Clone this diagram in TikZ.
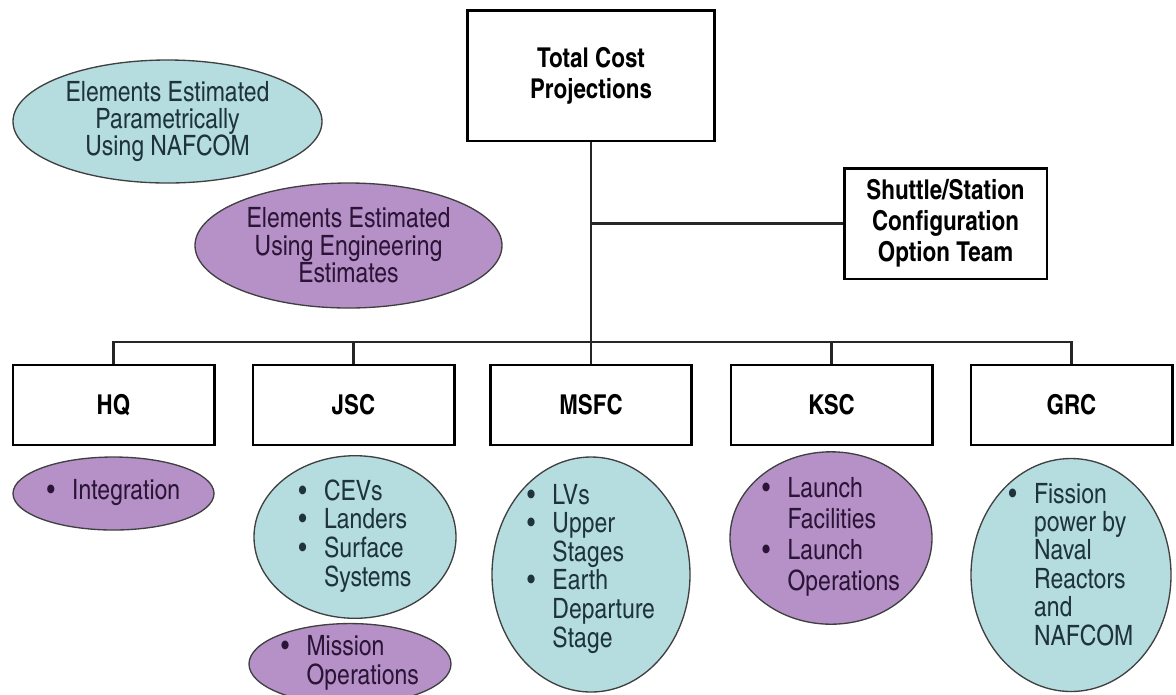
\documentclass[tikz,border=0pt]{standalone}
\usepackage{fontspec}
\setmainfont{texgyreheroscn}[Extension=.otf,UprightFont=*-regular,BoldFont=*-bold]
\usetikzlibrary{shapes.geometric}
\definecolor{paracyan}{HTML}{B5DDE0}
\definecolor{engpurple}{HTML}{B591C8}
\definecolor{cyantext}{HTML}{1E343A}
\definecolor{purptext}{HTML}{2C1436}
\newcommand{\blist}[1]{\begin{tabular}{@{}l@{\hspace{13pt}}l@{}}#1\end{tabular}}
\begin{document}
\begin{tikzpicture}[x=0.75pt,y=-0.75pt,
    orgbox/.style={draw,line width=2pt,fill=white,align=center,inner sep=0pt,
      font=\bfseries\fontsize{20.5}{23.2}\selectfont},
    oval/.style={ellipse,draw=black!75,line width=1pt,inner sep=0pt,align=center,
      font=\fontsize{21}{20.6}\selectfont},
    cyanoval/.style={oval,fill=paracyan,text=cyantext},
    purpoval/.style={oval,fill=engpurple,text=purptext},
    link/.style={line width=1.8pt,draw=black!85}]
\useasboundingbox (0,0) rectangle (1176,694);
% top of the tree
\node[orgbox,minimum width=185pt,minimum height=98pt] (total) at (591,75.5) {Total Cost\\Projections};
\node[orgbox,minimum width=152pt,minimum height=83pt] (shuttle) at (945.5,223.5) {Shuttle/Station\\Configuration\\Option Team};
% centres
\node[orgbox,minimum width=151pt,minimum height=60pt] (hq) at (113.5,405) {HQ};
\node[orgbox,minimum width=151pt,minimum height=60pt] (jsc) at (353.5,405) {JSC};
\node[orgbox,minimum width=151pt,minimum height=60pt] (msfc) at (591,405) {MSFC};
\node[orgbox,minimum width=151pt,minimum height=60pt] (ksc) at (831.5,405) {KSC};
\node[orgbox,minimum width=151pt,minimum height=60pt] (grc) at (1071.5,405) {GRC};
\coordinate (bus) at (0,342);
\draw[link] (total.south) -- (total.south |- msfc.north);
\draw[link] (total.south |- shuttle.west) -- (shuttle.west);
\draw[link] (hq.north) |- (grc.north |- bus) -- (grc.north);
\foreach \c in {jsc,ksc}
  \draw[link] (\c.north) -- (\c.north |- bus);
% legend
\node[cyanoval,minimum width=231.75pt,minimum height=92.25pt] (param) at (167.5,121.5) {Elements Estimated\\Parametrically\\Using NAFCOM};
\node[purpoval,minimum width=230.25pt,minimum height=93.75pt] (eng) at (348.5,245.5) {Elements Estimated\\Using Engineering\\Estimates};
% what each centre estimates
\node[purpoval,minimum width=150.75pt,minimum height=54.75pt] (integ) at (113.5,493.5) {\blist{\textbullet & Integration}};
\node[cyanoval,minimum width=151.5pt,minimum height=120pt] (jscel) at (355,537) {\blist{\textbullet & CEVs\\ \textbullet & Landers\\ \textbullet & Surface\\ & Systems}};
\node[purpoval,minimum width=151.5pt,minimum height=57pt] (missops) at (350,664) {\blist{\textbullet & Mission\\ & Operations}};
\node[cyanoval,inner ysep=-12pt,minimum width=148.5pt,minimum height=176.25pt] (msfcel) at (591,574.5) {\blist{\textbullet & LVs\\ \textbullet & Upper\\ & Stages\\ \textbullet & Earth\\ & Departure\\ & Stage\\[7pt]}};
\node[purpoval,minimum width=151.5pt,minimum height=121.5pt] (kscel) at (831,538) {\blist{\textbullet & Launch\\[2pt] & Facilities\\[2pt] \textbullet & Launch\\[2pt] & Operations}};
\node[cyanoval,inner ysep=-12pt,minimum width=150pt,minimum height=174.75pt] (grcel) at (1071,575) {\blist{\textbullet & Fission\\ & power by\\ & Naval\\ & Reactors\\ & and\\ & NAFCOM\\[10pt]}};
\end{tikzpicture}
\end{document}
